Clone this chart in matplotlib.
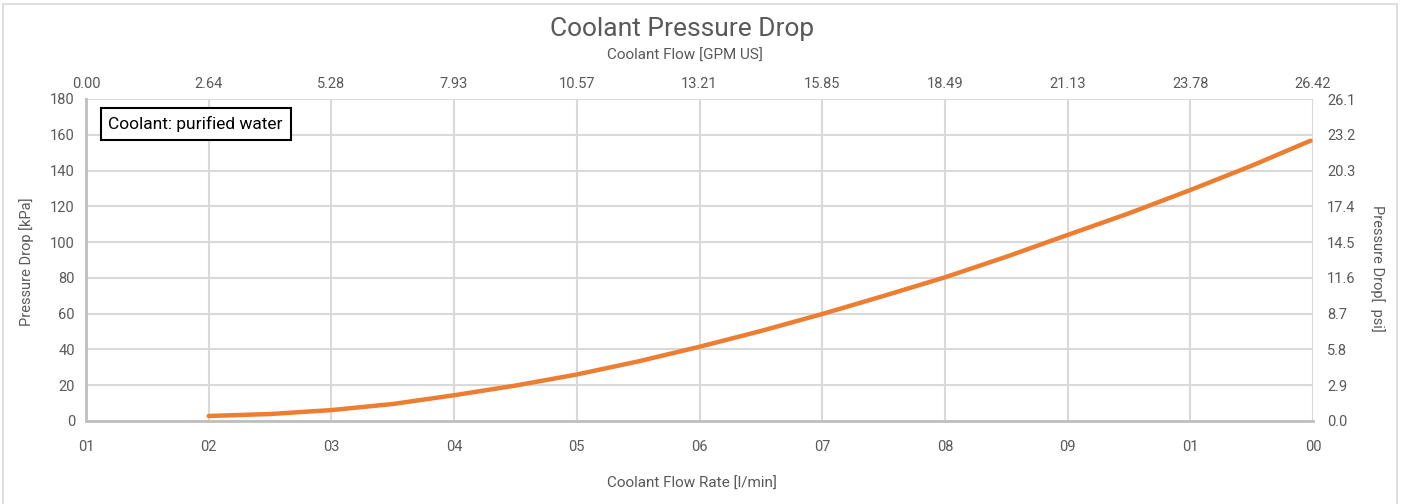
import matplotlib
matplotlib.use("Agg")
import matplotlib.pyplot as plt
from matplotlib.patches import Rectangle

plt.rcParams['font.family'] = ['Roboto', 'DejaVu Sans']

# Data
flow_lpm = [10, 15, 20, 25, 30, 35, 40, 45, 50, 55, 60, 65, 70, 75, 80, 85, 90, 95, 99.8]
dp_kpa = [2.8, 3.9, 6.1, 9.5, 14.4, 19.8, 26.0, 33.3, 41.5, 50.3, 59.8, 69.9, 80.3, 91.8,
          104.0, 116.1, 129.1, 142.7, 156.7]

bottom_ticks = [0, 10, 20, 30, 40, 50, 60, 70, 80, 90, 100]
bottom_labels = ["01", "02", "03", "04", "05", "06", "07", "08", "09", "01", "00"]
top_labels = ["0.00", "2.64", "5.28", "7.93", "10.57", "13.21", "15.85", "18.49", "21.13", "23.78", "26.42"]
left_ticks = [0, 20, 40, 60, 80, 100, 120, 140, 160, 180]
right_labels = ["0.0", "2.9", "5.8", "8.7", "11.6", "14.5", "17.4", "20.3", "23.2", "26.1"]

TXT = "#595959"
GRID = "#d9d9d9"
ORANGE = "#ED7D31"

W, H = 1403, 504
fig = plt.figure(figsize=(W / 100, H / 100), dpi=100)
# outer border
fig.patches.append(Rectangle((3 / W, -0.01), 1394 / W, 1.0 - 4 / H + 0.01, transform=fig.transFigure,
                             fill=False, edgecolor="#d9d9d9", linewidth=1.2))

ax = fig.add_axes([86 / W, 1 - 421 / H, (1313 - 86) / W, (421 - 99) / H])
ax.set_xlim(0, 100)
ax.set_ylim(0, 180)
ax.plot(flow_lpm, dp_kpa, color=ORANGE, linewidth=3.2, solid_capstyle="round",
        solid_joinstyle="round", zorder=3)

ax.set_xticks(bottom_ticks)
ax.set_xticklabels(bottom_labels)
ax.set_yticks(left_ticks)
ax.grid(True, color=GRID, linewidth=1.5)
ax.set_axisbelow(True)
for s in ["top", "right"]:
    ax.spines[s].set_visible(False)
for s in ["left", "bottom"]:
    ax.spines[s].set_color("#bfbfbf")
    ax.spines[s].set_linewidth(2)
ax.tick_params(axis="both", length=0, colors=TXT, labelsize=10.5)
ax.tick_params(axis="x", pad=14)
ax.tick_params(axis="y", pad=8)

# top axis
axt = ax.twiny()
axt.set_xlim(0, 100)
axt.set_xticks(bottom_ticks)
axt.set_xticklabels(top_labels)
axt.tick_params(axis="x", length=0, colors=TXT, labelsize=10.5, pad=6)
for s in axt.spines.values():
    s.set_visible(False)

# right axis
axr = ax.twinx()
axr.set_ylim(0, 180)
axr.set_yticks(left_ticks)
axr.set_yticklabels(right_labels)
axr.tick_params(axis="y", length=0, colors=TXT, labelsize=10.5, pad=10)
for s in axr.spines.values():
    s.set_visible(False)

# titles / axis labels
fig.text(682 / W, 1 - 29 / H, "Coolant Pressure Drop", ha="center", va="center",
         fontsize=19, color=TXT)
fig.text(685 / W, 1 - 56 / H, "Coolant Flow [GPM US]", ha="center", va="center",
         fontsize=11, color=TXT)
fig.text(692 / W, 1 - 484 / H, "Coolant Flow Rate [l/min]", ha="center", va="center",
         fontsize=11, color=TXT)
fig.text(27 / W, 1 - 262 / H, "Pressure Drop [kPa]", ha="center", va="center",
         rotation=90, fontsize=10.5, color=TXT)
fig.text(1377 / W, 1 - 268 / H, "Pressure Drop[  psi]", ha="center", va="center",
         rotation=270, fontsize=10.5, color=TXT)

ax.text(0.0183, 0.922, "Coolant: purified water", transform=ax.transAxes, ha="left", va="center",
        fontsize=12.5, color="black",
        bbox=dict(boxstyle="square,pad=0.45", facecolor="white", edgecolor="black", linewidth=1.5),
        zorder=5)

fig.savefig("out.png", dpi=100)
